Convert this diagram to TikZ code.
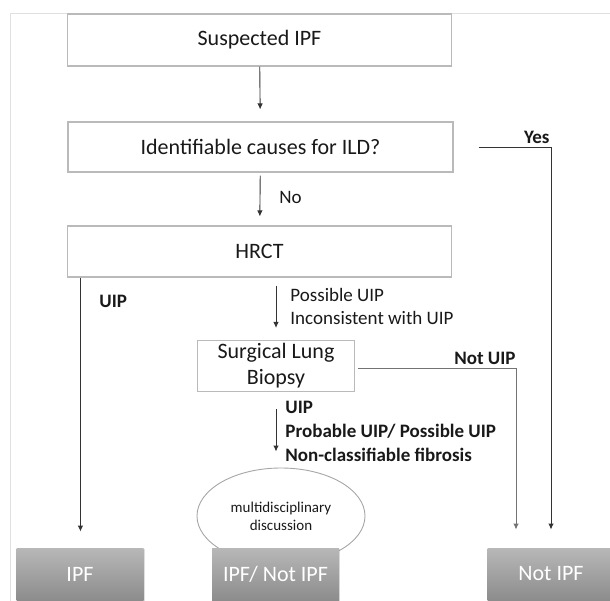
\documentclass[tikz,border=0pt]{standalone}
\usepackage{fontspec}
\setmainfont{Carlito}
\usetikzlibrary{shapes.geometric,arrows.meta,calc,positioning,shadows}
\tikzstyle{stepbox} = [rectangle, draw=black!27, line width=1.1pt, fill=white, inner sep=0pt,
    text=black!90, font=\fontsize{22}{26}\selectfont, align=center]
\tikzstyle{outbox} = [rectangle, draw=none, top color=black!28, bottom color=black!45,
    inner sep=0pt, minimum width=127pt, minimum height=52pt, text=white,
    font=\fontsize{22}{26}\selectfont,
    drop shadow={opacity=0.25, shadow xshift=1pt, shadow yshift=-1pt}]
\tikzstyle{lbl} = [inner sep=0pt, text=black!90, font=\fontsize{19}{22}\selectfont]
\tikzstyle{blbl} = [lbl, font=\fontsize{19}{22}\selectfont\bfseries]

\begin{document}
\begin{tikzpicture}[x=1pt,y=-1pt,>={Latex[length=6pt,width=5.5pt]},line width=0.9pt,black!80]
  \useasboundingbox (0,0) rectangle (610,601);
  % frame
  \draw[black!12, line width=0.8pt] (10,13) -- (615,13) (10,13) -- (10,606);

  \node[stepbox, minimum width=384pt, minimum height=52pt] (susp) at (259.5,40) {Suspected IPF};
  \node[stepbox, minimum width=385pt, minimum height=50pt] (ident) at (260.5,147) {Identifiable causes for ILD?};
  \node[stepbox, minimum width=384pt, minimum height=51pt] (hrct) at (259.5,251.5) {HRCT};
  \node[stepbox, minimum width=157pt, minimum height=51pt] (slb) at (276,366) {Surgical Lung\\Biopsy};
  \node[ellipse, draw=black!35, inner sep=0pt, minimum width=168pt, minimum height=96pt,
        align=center, text=black!90, font=\fontsize{15}{18}\selectfont] (mdd) at (281,516)
        {multidisciplinary\\discussion};

  \node[outbox] (ipf) at (80,574) {IPF};
  \node[outbox] (ipfn) at (275.5,574) {IPF/ Not IPF};
  \node[outbox] (nipf) at (551,574) {Not IPF};

  \coordinate (yes) at ($(ident.east)+(25,0)$);
  \coordinate (notuip) at ($(slb.east)+(3,2)$);
  \coordinate (uip) at ($(hrct.south west)+(13.5,0)$);

  \draw[->, shorten >=12pt] (susp) -- (ident);
  \draw[->, shorten <=3pt, shorten >=9pt] (ident) -- (hrct);
  \draw[->, shorten <=8pt, shorten >=12pt] (hrct.south -| slb) -- (slb);
  \draw[->, shorten <=17pt, shorten >=16pt] (slb) -- (slb |- mdd.north);
  \draw[->, shorten >=16pt] (uip) -- (uip |- ipf.north);
  \draw[->, shorten >=18pt] (yes) -| (nipf.north);
  \draw[->, black!55, shorten >=18pt] (notuip) -| ($(nipf.north)+(-35,0)$);

  \node[lbl, anchor=west] (no) at (279,197) {No};
  \node[blbl, anchor=east] (yeslbl) at (550,137) {Yes};
  \node[blbl, anchor=west] (uiplbl) at (99,301) {UIP};
  \node[lbl, anchor=west] (poss) at (290,295) {Possible UIP};
  \node[lbl, anchor=west] (incons) at (290,318) {Inconsistent with UIP};
  \node[blbl, anchor=east] (notlbl) at (516,358) {Not UIP};
  \node[blbl, anchor=west] (b1) at (285,407) {UIP};
  \node[blbl, anchor=west] (b2) at (285,431) {Probable UIP/ Possible UIP};
  \node[blbl, anchor=west] (b3) at (285,455) {Non-classifiable fibrosis};
\end{tikzpicture}
\end{document}
